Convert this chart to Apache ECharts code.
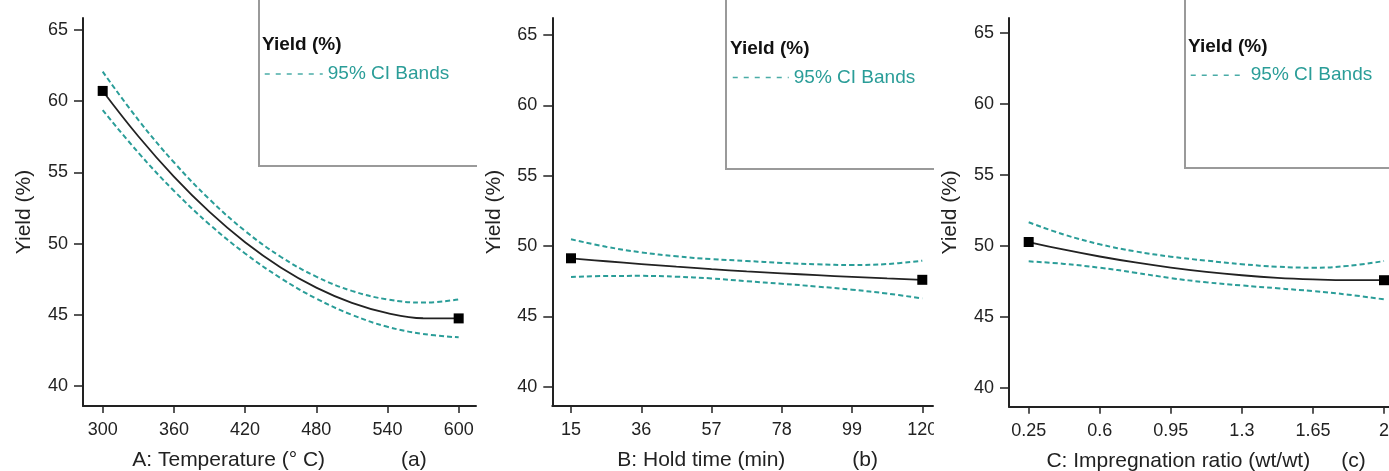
<!DOCTYPE html>
<html>
<head>
<meta charset="utf-8">
<script src="https://cdn.jsdelivr.net/npm/echarts@6/dist/echarts.min.js"></script>
<style>
  html, body { margin: 0; padding: 0; background: #fff; }
  #wrap { position: relative; width: 1389px; height: 471px; overflow: hidden; }
  .panel { position: absolute; top: 0; height: 471px; overflow: hidden; }
</style>
</head>
<body>
<div id="wrap">
  <div id="pa" class="panel" style="left:0;width:477px;"></div>
  <div id="pb" class="panel" style="left:477px;width:457px;"></div>
  <div id="pc" class="panel" style="left:934px;width:455px;"></div>
</div>
<script>
// ---------- data ----------
const yieldTicks = [40, 45, 50, 55, 60, 65];

// (a) Temperature
const tempTicks = [300, 360, 420, 480, 540, 600];
const tempX     = [300, 330, 360, 390, 420, 450, 480, 510, 540, 570, 600];
const yieldA    = [60.72, 57.54, 54.71, 52.23, 50.10, 48.33, 46.91, 45.84, 45.12, 44.76, 44.75];
const upperA    = [62.07, 58.69, 55.71, 53.11, 50.89, 49.08, 47.68, 46.68, 46.08, 45.86, 46.08];
const lowerA    = [59.37, 56.39, 53.71, 51.35, 49.31, 47.58, 46.14, 45.00, 44.16, 43.66, 43.42];

// (b) Hold time
const holdTicks = [15, 36, 57, 78, 99, 120];
const holdX     = [15, 25.5, 36, 46.5, 57, 67.5, 78, 88.5, 99, 109.5, 120];
const yieldB    = [49.13, 48.92, 48.72, 48.53, 48.36, 48.20, 48.06, 47.93, 47.81, 47.70, 47.60];
const upperB    = [50.48, 49.95, 49.55, 49.27, 49.07, 48.94, 48.80, 48.70, 48.65, 48.72, 48.96];
const lowerB    = [47.80, 47.87, 47.88, 47.82, 47.70, 47.50, 47.32, 47.12, 46.90, 46.62, 46.28];

// (c) Impregnation ratio
const ratioTicks = [0.25, 0.6, 0.95, 1.3, 1.65, 2];
const ratioX     = [0.25, 0.425, 0.6, 0.775, 0.95, 1.125, 1.3, 1.475, 1.65, 1.825, 2];
const yieldC     = [50.26, 49.72, 49.24, 48.82, 48.46, 48.16, 47.92, 47.74, 47.63, 47.57, 47.57];
const upperC     = [51.65, 50.78, 50.10, 49.60, 49.23, 48.95, 48.70, 48.52, 48.45, 48.58, 48.92];
const lowerC     = [48.90, 48.72, 48.45, 48.10, 47.72, 47.42, 47.20, 47.00, 46.80, 46.55, 46.22];

// ---------- layout / style ----------
const TEAL = '#2a9d98';
const FONT = 'Liberation Sans, Arial, sans-serif';

const panels = [
  { el: 'pa', x: tempX, y: yieldA, up: upperA, lo: lowerA, ticks: tempTicks,
    title: 'A: Temperature (° C)', tag: '(a)', tagGap: 76, lead: 0,
    grid: { left: 83, right: 1, top: 18, bottom: 65 },
    xMin: 283.4, xMax: 614.6, yMin: 38.6, yMax: 65.84,
    box: { x: 259, bottom: 166 }, leg: { yieldX: 262, yieldC: 46.5, ciC: 71.5, dashX: 264, textX: 327 } },
  { el: 'pb', x: holdX, y: yieldB, up: upperB, lo: lowerB, ticks: holdTicks,
    title: 'B: Hold time (min)', tag: '(b)', tagGap: 67, lead: 10,
    grid: { left: 75.3, right: 1, top: 18, bottom: 65 },
    xMin: 9.41, xMax: 123.2, yMin: 38.63, yMax: 66.21,
    box: { x: 249, bottom: 169 }, leg: { yieldX: 253, yieldC: 50, ciC: 75, dashX: 255, textX: 316 } },
  { el: 'pc', x: ratioX, y: yieldC, up: upperC, lo: lowerC, ticks: ratioTicks,
    title: 'C: Impregnation ratio (wt/wt)', tag: '(c)', tagGap: 31, lead: 14,
    grid: { left: 75, right: 0, top: 18, bottom: 64.3 },
    xMin: 0.153, xMax: 2.0246, yMin: 38.66, yMax: 66.04,
    box: { x: 251, bottom: 168 }, leg: { yieldX: 254, yieldC: 48.3, ciC: 72.7, dashX: 256, textX: 316 } }
];

function pairs(xs, ys) { return xs.map((x, i) => [x, ys[i]]); }

function buildOption(p) {
  const n = p.x.length;
  const axisLine = { show: true, onZero: false, lineStyle: { color: '#222', width: 2 } };
  const itemW = p.leg.textX - p.leg.dashX - 5;
  return {
    animation: false,
    textStyle: { fontFamily: FONT },
    grid: Object.assign({ containLabel: false, outerBoundsMode: 'none' }, p.grid),
    title: {
      text: 'Yield (%)', left: p.leg.yieldX, top: p.leg.yieldC - 11, padding: 0,
      textStyle: { fontSize: 19, fontWeight: 'bold', color: '#111', fontFamily: FONT }
    },
    legend: {
      data: ['95% CI Bands'],
      left: p.leg.dashX, top: p.leg.ciC - 7, padding: 0,
      itemWidth: itemW, itemHeight: 14, itemGap: 5,
      itemStyle: { opacity: 0, borderWidth: 0 },
      lineStyle: { type: [5, 6], width: 1.5, color: TEAL, opacity: 0.85 },
      textStyle: { fontSize: 19, color: TEAL, fontFamily: FONT },
      selectedMode: false
    },
    graphic: [{
      type: 'rect', silent: true, z: 0,
      shape: { x: p.box.x, y: -20, width: 600, height: p.box.bottom + 20 },
      style: { fill: 'none', stroke: '#9a9a9a', lineWidth: 2 }
    }],
    xAxis: {
      type: 'value', min: p.xMin, max: p.xMax,
      splitLine: { show: false }, axisLine,
      axisTick: { show: true, length: 7, customValues: p.ticks, lineStyle: { color: '#222', width: 1.5 } },
      axisLabel: { customValues: p.ticks, fontSize: 18, color: '#222', margin: 15, fontFamily: FONT },
      name: '{s|}{t|' + p.title + '}{g|}{t|' + p.tag + '}',
      nameLocation: 'middle', nameGap: 44,
      nameTextStyle: {
        rich: {
          s: { width: p.lead },
          t: { fontSize: 21, color: '#222', fontFamily: FONT },
          g: { width: p.tagGap }
        }
      }
    },
    yAxis: {
      type: 'value', min: p.yMin, max: p.yMax,
      splitLine: { show: false }, axisLine,
      axisTick: { show: true, length: 9, customValues: yieldTicks, lineStyle: { color: '#222', width: 1.5 } },
      axisLabel: { customValues: yieldTicks, fontSize: 18, color: '#222', margin: 15, fontFamily: FONT },
      name: 'Yield (%)', nameLocation: 'middle', nameGap: 48,
      nameTextStyle: { fontSize: 21, color: '#222', fontFamily: FONT }
    },
    series: [
      {
        name: '95% CI Bands', type: 'line', data: pairs(p.x, p.up), smooth: 0.4,
        symbol: 'none', lineStyle: { color: TEAL, width: 2, type: [5, 3] }, itemStyle: { color: TEAL }
      },
      {
        name: '95% CI Bands', type: 'line', data: pairs(p.x, p.lo), smooth: 0.4,
        symbol: 'none', lineStyle: { color: TEAL, width: 2, type: [5, 3] }, itemStyle: { color: TEAL }
      },
      {
        name: 'Yield (%)', type: 'line', smooth: 0.4,
        data: p.x.map((x, i) => ({
          value: [x, p.y[i]],
          symbol: (i === 0 || i === n - 1) ? 'rect' : 'none'
        })),
        symbolSize: 10, showAllSymbol: true,
        lineStyle: { color: '#222', width: 1.8 }, itemStyle: { color: '#000' }, z: 5
      }
    ]
  };
}

panels.forEach(p => {
  const chart = echarts.init(document.getElementById(p.el), null, { renderer: 'canvas' });
  chart.setOption(buildOption(p));
});
</script>
</body>
</html>
